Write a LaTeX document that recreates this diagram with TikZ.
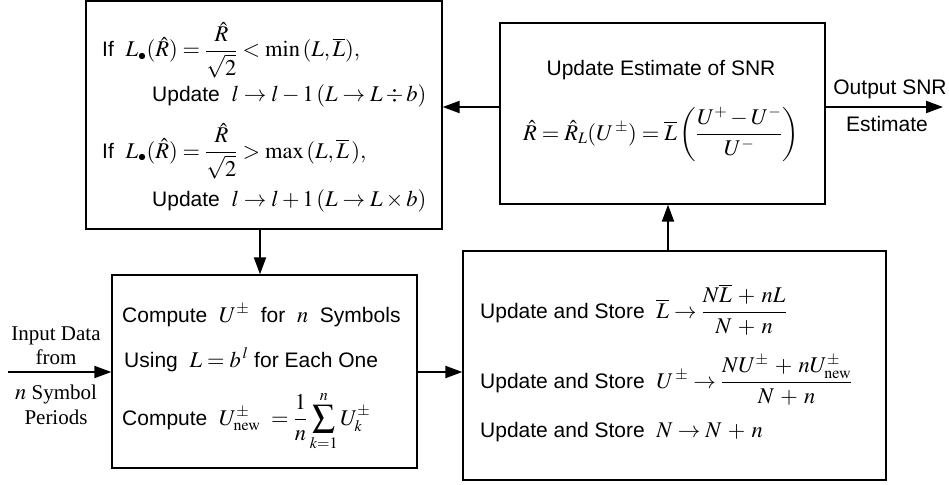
\documentclass[tikz,border=0pt]{standalone}
\usepackage{mathptmx}
\usepackage[no-math]{fontspec}
\setmainfont{Liberation Sans}
\newfontfamily\inserif{Liberation Serif}
\usetikzlibrary{arrows.meta}
% formulas are set a little larger than the surrounding text
\DeclareMathSizes{21}{22.5}{16}{12}

\tikzset{
  box/.style={draw=black, line width=1.3pt, rectangle, inner sep=0pt},
  arr/.style={line width=2pt, -{Triangle[length=17pt,width=12pt]}},
  txt/.style={inner sep=0pt, anchor=base west, font=\fontsize{21}{25}\selectfont},
  ctxt/.style={inner sep=0pt, anchor=base, font=\fontsize{21}{25}\selectfont},
  stxt/.style={inner sep=0pt, anchor=base, font=\inserif\fontsize{21}{25}\selectfont}
}
\newcommand{\widemath}{\medmuskip=5mu plus 2mu minus 2mu\relax}

\begin{document}
\begin{tikzpicture}[x=1pt,y=-1pt]
\useasboundingbox (0,0) rectangle (949,484);

% blocks
\node[box, minimum width=356pt, minimum height=228pt] (A) at (264,115) {};
\node[box, minimum width=325pt, minimum height=181pt] (B) at (662.5,113.5) {};
\node[box, minimum width=305pt, minimum height=193pt] (C) at (264.5,371.5) {};
\node[box, minimum width=423pt, minimum height=229pt] (D) at (674.5,365.5) {};

% level update rules
\node[txt] (a1) at (102,57) {If \ $L_{\bullet}(\hat R) = \displaystyle\frac{\hat R}{\sqrt{2}} < \min\,(L,\overline{L}),$};
\node[txt] (a2) at (152,102) {Update \ $l \to l - 1\,(L \to L \div b)$};
\node[txt] (a3) at (102,158) {If \ $L_{\bullet}(\hat R) = \displaystyle\frac{\hat R}{\sqrt{2}} > \max\,(L,\overline{L}\,),$};
\node[txt] (a4) at (152,206) {Update \ $l \to l + 1\,(L \to L \times b)$};

% SNR estimate
\node[ctxt] (b1) at (661,76) {Update Estimate of SNR};
\node[ctxt] (b2) at (661,140) {$\hat R = \hat R_L(U^{\,\pm}) = \overline{L}\left(\displaystyle\frac{U^{+} - U^{-}}{U^{-}}\right)$};

% per-symbol statistics
\node[txt] (c1) at (122,322) {Compute \ $U^{\pm}$ \ for \ $n$ \ Symbols};
\node[txt] (c2) at (124,367) {Using \ $L = b^{\,l}$ for Each One};
\node[txt] (c3) at (122,425) {Compute \ $U^{\pm}_{\mathrm{new}}\ = \displaystyle\frac{1}{n}\sum_{k=1}^{n} U^{\pm}_{k}$};

% running averages
\node[txt] (d1) at (480,318) {Update and Store \ $\widemath\overline{L} \to \displaystyle\frac{N\overline{L} + nL}{N + n}$};
\node[txt] (d2) at (480,388) {Update and Store \ $\widemath U^{\,\pm} \to \displaystyle\frac{NU^{\pm} + nU^{\pm}_{\mathrm{new}}}{N + n}$};
\node[txt] (d3) at (480,437) {Update and Store \ $\widemath N \to N + n$};

% input and output labels
\node[stxt] (i1) at (56,340) {Input Data};
\node[stxt] (i2) at (56,364) {from};
\node[stxt] (i3) at (56,399) {$n$ Symbol};
\node[stxt] (i4) at (56,424) {Periods};
\node[ctxt] (o1) at (890,95) {Output SNR};
\node[ctxt] (o2) at (887,131) {Estimate};

% connector guides
\coordinate (ytop) at (0,107);
\coordinate (ylow) at (0,372);
\coordinate (xac) at (260,0);
\coordinate (xdb) at (668,0);
\coordinate (inp) at (8,372);
\coordinate (outp) at (943,107);

% connectors
\draw[arr] (ytop -| B.west) -- (ytop -| A.east);
\draw[arr] (ytop -| B.east) -- (outp);
\draw[arr] (xac |- A.south) -- (xac |- C.north);
\draw[arr] (inp) -- (ylow -| C.west);
\draw[arr] (ylow -| C.east) -- (ylow -| D.west);
\draw[arr] (xdb |- D.north) -- (xdb |- B.south);
\end{tikzpicture}
\end{document}
